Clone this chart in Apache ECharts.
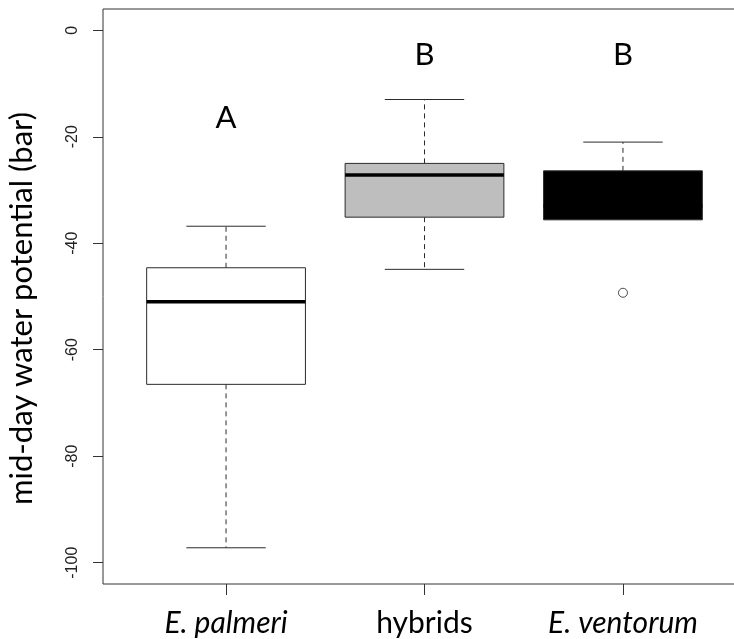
<!DOCTYPE html>
<html>
<head>
<meta charset="utf-8">
<title>Mid-day water potential</title>
<script src="https://cdn.jsdelivr.net/npm/echarts@6/dist/echarts.min.js"></script>
<style>
  html, body { margin: 0; padding: 0; background: #ffffff; }
  #chart { width: 734px; height: 639px; }
</style>
</head>
<body>
<div id="chart"></div>
<script>
// Groups along the x axis
const categories = ['E. palmeri', 'hybrids', 'E. ventorum'];
const italicNames = [true, false, true];

// Five-number summaries per group (bar)
const whiskerLow  = [-97.2, -44.9, -35.6];
const quartileLow = [-66.5, -35.1, -35.6];
const medians     = [-51.0, -27.2, -33.0];
const quartileHigh = [-44.6, -25.0, -26.4];
const whiskerHigh = [-36.8, -13.0, -21.0];

// Outlying observations: [group index, value]
const outliers = [[2, -49.3]];

// Significance letters and the height they are written at
const letters = ['A', 'B', 'B'];
const letterHeights = [-16.5, -4.6, -4.6];

// Y axis tick values
const yTicks = [0, -20, -40, -60, -80, -100];

const boxFills = ['#ffffff', '#bebebe', '#000000'];

const xPos = categories.map((_, i) => i + 1);

const boxData = categories.map((_, i) => [
  xPos[i], whiskerLow[i], quartileLow[i], medians[i], quartileHigh[i], whiskerHigh[i], i
]);

const outlierData = outliers.map(o => [xPos[o[0]], o[1]]);
const letterData = letters.map((l, i) => [xPos[i], letterHeights[i], l]);

const lineColor = '#2b2b2b';
const BOX_WIDTH = 0.8;

function renderBox(params, api) {
  const x = api.value(0);
  const lo = api.value(1), q1 = api.value(2), med = api.value(3), q3 = api.value(4), hi = api.value(5);
  const idx = api.value(6);
  const half = BOX_WIDTH / 2, capHalf = BOX_WIDTH / 4;

  const pLo = api.coord([x, lo]);
  const pQ1 = api.coord([x, q1]);
  const pQ3 = api.coord([x, q3]);
  const pHi = api.coord([x, hi]);
  const left = api.coord([x - half, med])[0];
  const right = api.coord([x + half, med])[0];
  const capL = api.coord([x - capHalf, med])[0];
  const capR = api.coord([x + capHalf, med])[0];
  const yMed = api.coord([x, med])[1];

  const children = [];
  const dashStyle = { stroke: lineColor, lineWidth: 1, lineDash: [5, 4], fill: null };
  const solid = { stroke: lineColor, lineWidth: 1, fill: null };

  if (hi > q3) {
    children.push({ type: 'line', shape: { x1: pQ3[0], y1: pQ3[1], x2: pHi[0], y2: pHi[1] }, style: dashStyle });
    children.push({ type: 'line', shape: { x1: capL, y1: pHi[1], x2: capR, y2: pHi[1] }, style: solid });
  }
  if (lo < q1) {
    children.push({ type: 'line', shape: { x1: pQ1[0], y1: pQ1[1], x2: pLo[0], y2: pLo[1] }, style: dashStyle });
    children.push({ type: 'line', shape: { x1: capL, y1: pLo[1], x2: capR, y2: pLo[1] }, style: solid });
  }
  children.push({
    type: 'rect',
    shape: { x: left, y: pQ3[1], width: right - left, height: pQ1[1] - pQ3[1] },
    style: { fill: boxFills[idx], stroke: lineColor, lineWidth: 1 }
  });
  children.push({
    type: 'line',
    shape: { x1: left, y1: yMed, x2: right, y2: yMed },
    style: { stroke: '#000000', lineWidth: 3.5 }
  });
  return { type: 'group', children };
}

function renderLetter(params, api) {
  const p = api.coord([api.value(0), api.value(1)]);
  return {
    type: 'text',
    x: p[0],
    y: p[1],
    style: {
      text: letters[params.dataIndex],
      fontFamily: 'Lato',
      fontSize: 31,
      fill: '#000000',
      align: 'center',
      verticalAlign: 'middle'
    }
  };
}

const chart = echarts.init(document.getElementById('chart'), null, { renderer: 'canvas' });

chart.setOption({
  animation: false,
  backgroundColor: '#ffffff',
  grid: {
    left: 103, top: 9, right: -12, bottom: 55,
    containLabel: false,
    outerBoundsMode: 'none',
    show: true, borderColor: '#333333', borderWidth: 1, backgroundColor: 'transparent'
  },
  xAxis: {
    type: 'value',
    min: 0.38,
    max: 3.62,
    splitLine: { show: false },
    axisLine: { show: false, onZero: false },
    axisTick: {
      show: true, inside: false, length: 11,
      customValues: xPos,
      lineStyle: { color: '#333333', width: 1 }
    },
    axisLabel: {
      show: true,
      customValues: xPos,
      margin: 24,
      color: '#000000',
      formatter: function (v) {
        const i = Math.round(v) - 1;
        return italicNames[i] ? '{it|' + categories[i] + '}' : '{rg|' + categories[i] + '}';
      },
      rich: {
        it: { fontFamily: 'Lato', fontStyle: 'italic', fontSize: 30, color: '#000000' },
        rg: { fontFamily: 'Lato', fontSize: 30, color: '#000000' }
      }
    }
  },
  yAxis: {
    type: 'value',
    min: -104,
    max: 4,
    name: 'mid-day water potential (bar)',
    nameLocation: 'middle',
    nameRotate: 90,
    nameGap: 66,
    nameTextStyle: { fontFamily: 'Lato', fontSize: 31, color: '#000000', padding: [0, 24, 0, 0] },
    splitLine: { show: false },
    axisLine: { show: false, onZero: false },
    axisTick: {
      show: true, inside: false, length: 10,
      customValues: yTicks,
      lineStyle: { color: '#333333', width: 1 }
    },
    axisLabel: {
      show: true,
      customValues: yTicks,
      rotate: 90,
      margin: 22,
      fontFamily: 'Liberation Sans',
      fontSize: 16,
      color: '#222222'
    }
  },
  series: [
    {
      type: 'custom',
      name: 'boxes',
      renderItem: renderBox,
      encode: { x: 0, y: [1, 2, 3, 4, 5] },
      data: boxData,
      z: 2
    },
    {
      type: 'scatter',
      name: 'outliers',
      data: outlierData,
      symbol: 'circle',
      symbolSize: 9,
      itemStyle: { color: '#ffffff', borderColor: '#222222', borderWidth: 1 },
      z: 3
    },
    {
      type: 'custom',
      name: 'letters',
      renderItem: renderLetter,
      encode: { x: 0, y: 1 },
      data: letterData,
      z: 3
    }
  ]
});
</script>
</body>
</html>
